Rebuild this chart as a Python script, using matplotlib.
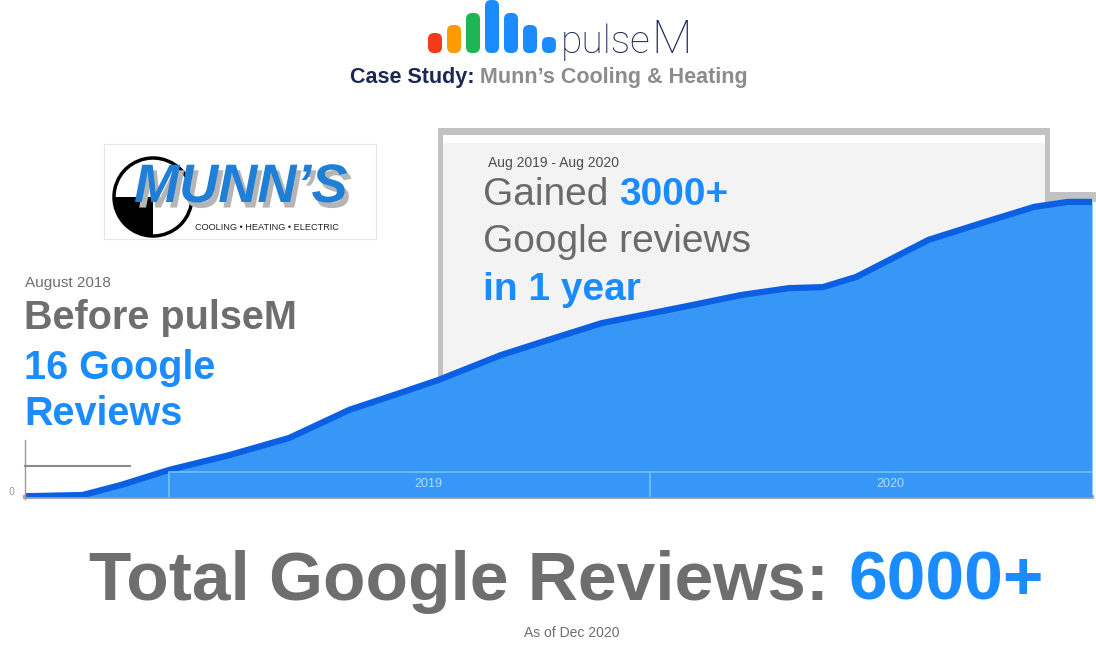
import matplotlib
matplotlib.use("Agg")
import matplotlib.pyplot as plt
import matplotlib.patheffects as pe
from matplotlib.patches import Rectangle, Circle, Wedge, FancyBboxPatch

# cumulative Google reviews (decimal year, count)
years = [2018.70, 2018.82, 2018.90, 2019.00, 2019.125, 2019.25, 2019.375, 2019.48,
         2019.56, 2019.69, 2019.77, 2019.90, 2020.07, 2020.19, 2020.29, 2020.36,
         2020.43, 2020.51, 2020.58, 2020.69, 2020.80, 2020.87, 2020.92]
reviews = [16, 40, 245, 550, 850, 1200, 1770, 2110,
           2375, 2880, 3130, 3530, 3860, 4100, 4240, 4260,
           4470, 4870, 5220, 5560, 5890, 5990, 5990]
band_years = [2019, 2020]
band_labels = ["2019", "2020"]

W, H = 1096, 648
BLUE = "#1a8cff"
GRAY = "#6e6e6e"
NAVY = "#1d2754"
FILL = "#3797f7"
LINE = "#0b5fe3"
SANS = "Liberation Sans"


def frac(x0, y0, x1, y1):
    # pixel box (top-left origin) -> figure fraction rect
    return [x0 / W, 1 - y1 / H, (x1 - x0) / W, (y1 - y0) / H]


fig = plt.figure(figsize=(W / 100, H / 100), dpi=100)
fig.patch.set_facecolor("white")

# background layer: grey card + Munn's logo
bg = fig.add_axes([0, 0, 1, 1], zorder=0)
bg.set_xlim(0, W)
bg.set_ylim(H, 0)
bg.axis("off")

bg.add_patch(Rectangle((438, 128), 612, 369, facecolor="#c2c2c2", edgecolor="none"))
bg.add_patch(Rectangle((443, 135), 602, 362, facecolor="white", edgecolor="none"))
bg.add_patch(Rectangle((443, 143), 602, 354, facecolor="#f3f3f3", edgecolor="none"))
bg.add_patch(Rectangle((1045, 192), 51, 10, facecolor="#c2c2c2", edgecolor="none"))

# Munn's logo
bg.add_patch(Rectangle((104, 144), 272, 95, facecolor="white", edgecolor="#e6e6e6", lw=0.8))
bg.add_patch(Circle((153, 197), 39, facecolor="white", edgecolor="black", lw=2.5))
bg.add_patch(Wedge((153, 197), 39, 90, 180, facecolor="black", edgecolor="none"))
bg.text(134, 188, "MUNN\u2019S", fontsize=39, fontweight="bold", fontstyle="italic",
        color="#1f7fd6", ha="left", va="center", family=SANS,
        path_effects=[pe.withSimplePatchShadow(offset=(3, -4), shadow_rgbFace="#b5b5b5",
                                               alpha=1)])
bg.text(267, 227, "COOLING \u2022 HEATING \u2022 ELECTRIC", fontsize=6.6, color="#222222",
        ha="center", va="center", family=SANS)

# chart
ax = fig.add_axes(frac(25, 180, 1092, 497), zorder=1)
ax.set_facecolor("none")
ax.fill_between(years, reviews, 0, color=FILL, lw=0)
ax.plot(years, reviews, color=LINE, lw=4.5, solid_capstyle="round", solid_joinstyle="round")
ax.set_xlim(years[0], years[-1])
ax.set_ylim(0, 6435)
for s in ax.spines.values():
    s.set_visible(False)
ax.set_xticks([])
ax.set_yticks([])

band_top = 0.079
xt = ax.get_xaxis_transform()
ax.plot([band_years[0], years[-1]], [band_top, band_top], color="#74c0ff", lw=1.2, transform=xt)
ax.vlines(band_years, 0, band_top, color="#74c0ff", lw=1.2, transform=xt)
ends = band_years[1:] + [years[-1]]
for yr, end, lab in zip(band_years, ends, band_labels):
    ax.text((yr + end) / 2 + 0.04, band_top / 2, lab, transform=xt, ha="center", va="center",
            fontsize=9, color="#b3dcff", family=SANS)
ax.axhline(0, color="#a8a8a8", lw=3, clip_on=False, zorder=0)

# overlay layer: texts, pulseM logo
ov = fig.add_axes([0, 0, 1, 1], zorder=2)
ov.set_facecolor("none")
ov.set_xlim(0, W)
ov.set_ylim(H, 0)
ov.axis("off")

# small axis remnants at left
ov.plot([25, 25], [440, 499], color="#9a9a9a", lw=1)
ov.plot([25, 130], [466, 466], color="#8a8a8a", lw=1.5)
ov.text(11, 492, "0", fontsize=7, color="#9a9a9a", ha="center", va="center")

# pulseM logo bars
bar_cols = ["#f23b1b", "#ff9a00", "#1fb552", BLUE, BLUE, BLUE, BLUE]
bar_tops = [33, 25, 13, 0, 13, 25, 37]
for i, (c, top) in enumerate(zip(bar_cols, bar_tops)):
    x0 = 428 + i * 19
    ov.add_patch(FancyBboxPatch((x0, top), 14, 53 - top,
                                boxstyle="round,pad=0,rounding_size=6",
                                facecolor=c, edgecolor="none"))
ov.text(561, 53, "pulse", fontsize=28, color=NAVY, ha="left", va="baseline",
        family="Roboto", fontweight="light")
ov.text(651, 53, "M", fontsize=34, color=NAVY, ha="left", va="baseline",
        family="Roboto", fontweight="light")

t = ov.text(350, 77, "Case Study: ", fontsize=15.5, fontweight="bold", color=NAVY,
            ha="left", va="center", family=SANS)
ov.annotate("Munn\u2019s Cooling & Heating", xy=(1, 0.5), xycoords=t, fontsize=15.5,
            fontweight="bold", color="#8c8c8c", ha="left", va="center", family=SANS)

# card text
ov.text(488, 163, "Aug 2019 - Aug 2020", fontsize=10, color="#4d4d4d", ha="left",
        va="center", family=SANS)
t = ov.text(483, 195, "Gained ", fontsize=28, color="#6a6a6a", ha="left", va="center",
            family=SANS)
ov.annotate("3000+", xy=(1, 0.5), xycoords=t, fontsize=28, fontweight="bold", color=BLUE,
            ha="left", va="center", family=SANS)
ov.text(483, 242, "Google reviews", fontsize=28, color="#6a6a6a", ha="left", va="center",
        family=SANS)
ov.text(483, 290, "in 1 year", fontsize=28, fontweight="bold", color=BLUE, ha="left",
        va="center", family=SANS)

# left text
ov.text(25, 283, "August 2018", fontsize=11, color=GRAY, ha="left", va="center", family=SANS)
ov.text(24, 318, "Before pulseM", fontsize=28.5, fontweight="bold", color=GRAY, ha="left",
        va="center", family=SANS)
ov.text(24, 368, "16 Google", fontsize=28.5, fontweight="bold", color=BLUE, ha="left",
        va="center", family=SANS)
ov.text(24, 414, "Reviews", fontsize=28.5, fontweight="bold", color=BLUE, ha="left",
        va="center", family=SANS)

# bottom total
t = ov.text(89, 582, "Total Google Reviews: ", fontsize=50, fontweight="bold", color=GRAY,
            ha="left", va="center", family=SANS)
ov.annotate("6000+", xy=(1, 0.5), xycoords=t, fontsize=50, fontweight="bold", color=BLUE,
            ha="left", va="center", family=SANS)
ov.text(572, 633, "As of Dec 2020", fontsize=10, color=GRAY, ha="center", va="center",
        family=SANS)

fig.savefig("out.png", dpi=100, facecolor="white")
